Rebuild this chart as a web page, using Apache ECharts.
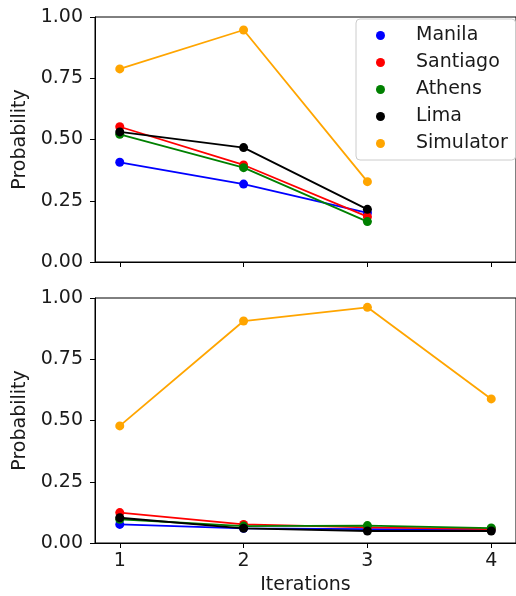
<!DOCTYPE html>
<html>
<head>
<meta charset="utf-8">
<script src="https://cdn.jsdelivr.net/npm/echarts@6/dist/echarts.min.js"></script>
<style>
  html, body { margin: 0; padding: 0; background: #fff; }
  #chart { width: 516px; height: 596px; }
</style>
</head>
<body>
<div id="chart"></div>
<script>
// data
const iterations = [1, 2, 3, 4];
const cities = ['Manila', 'Santiago', 'Athens', 'Lima', 'Simulator'];
const colors = ['#0000ff', '#ff0000', '#008000', '#000000', '#ffa500'];

// upper panel (3 iterations)
const topManila = [0.407, 0.318, 0.201];
const topSantiago = [0.552, 0.396, 0.185];
const topAthens = [0.521, 0.385, 0.165];
const topLima = [0.531, 0.467, 0.215];
const topSimulator = [0.788, 0.947, 0.328];

// lower panel (4 iterations)
const botManila = [0.076, 0.060, 0.057, 0.055];
const botSantiago = [0.124, 0.076, 0.064, 0.057];
const botAthens = [0.097, 0.069, 0.071, 0.061];
const botLima = [0.103, 0.060, 0.049, 0.049];
const botSimulator = [0.478, 0.906, 0.962, 0.588];

const topData = [topManila, topSantiago, topAthens, topLima, topSimulator];
const botData = [botManila, botSantiago, botAthens, botLima, botSimulator];

const font = 'DejaVu Sans';
const ink = '#1a1a1a';

function makeSeries(list, idx) {
  return list.map((vals, i) => ({
    name: cities[i],
    type: 'line',
    xAxisIndex: idx,
    yAxisIndex: idx,
    symbol: 'circle',
    symbolSize: 9,
    color: colors[i],
    lineStyle: { width: 1.8, color: colors[i] },
    itemStyle: { color: colors[i] },
    z: 2 + i,
    animation: false,
    data: vals.map((v, k) => [iterations[k], v])
  }));
}

function xAxis(idx, labels) {
  return {
    type: 'value',
    gridIndex: idx,
    min: 0.8,
    max: 4.2,
    axisLine: { show: true, onZero: false, lineStyle: { color: '#000', width: 1 } },
    axisTick: { show: true, length: 5, customValues: iterations, lineStyle: { color: '#000' } },
    axisLabel: {
      show: labels, customValues: iterations, margin: 9,
      fontFamily: font, fontSize: 19, color: ink
    },
    splitLine: { show: false },
    name: labels ? 'Iterations' : '',
    nameLocation: 'middle',
    nameGap: 33,
    nameTextStyle: { fontFamily: font, fontSize: 19, color: ink }
  };
}

function yAxis(idx) {
  return {
    type: 'value',
    gridIndex: idx,
    min: 0,
    max: 1,
    interval: 0.25,
    axisLine: { show: true, lineStyle: { color: '#000', width: 1 } },
    axisTick: { show: true, length: 5, lineStyle: { color: '#000' } },
    axisLabel: {
      margin: 12, fontFamily: font, fontSize: 19, color: ink,
      formatter: v => v.toFixed(2)
    },
    splitLine: { show: false },
    name: 'Probability',
    nameLocation: 'middle',
    nameGap: 58,
    nameTextStyle: { fontFamily: font, fontSize: 19, color: ink }
  };
}

const chart = echarts.init(document.getElementById('chart'), null, { renderer: 'canvas' });
chart.setOption({
  animation: false,
  backgroundColor: '#fff',
  grid: [
    { left: 95, top: 17, width: 423, height: 245, show: true, borderColor: '#000', borderWidth: 1 },
    { left: 95, top: 298, width: 423, height: 245, show: true, borderColor: '#000', borderWidth: 1 }
  ],
  xAxis: [xAxis(0, false), xAxis(1, true)],
  yAxis: [yAxis(0), yAxis(1)],
  legend: {
    orient: 'vertical',
    left: 356,
    top: 19,
    data: cities.map(c => ({ name: c, icon: 'circle' })),
    itemWidth: 9,
    itemHeight: 9,
    itemGap: 8,
    padding: [7, 8, 7, 20],
    backgroundColor: 'rgba(255,255,255,0.8)',
    borderColor: '#cccccc',
    borderWidth: 1,
    borderRadius: 4,
    selectedMode: false,
    formatter: name => '{gap|}' + name,
    textStyle: {
      fontFamily: font, fontSize: 19, color: ink, lineHeight: 19,
      rich: { gap: { width: 26 } }
    }
  },
  series: makeSeries(topData, 0).concat(makeSeries(botData, 1))
});
</script>
</body>
</html>
